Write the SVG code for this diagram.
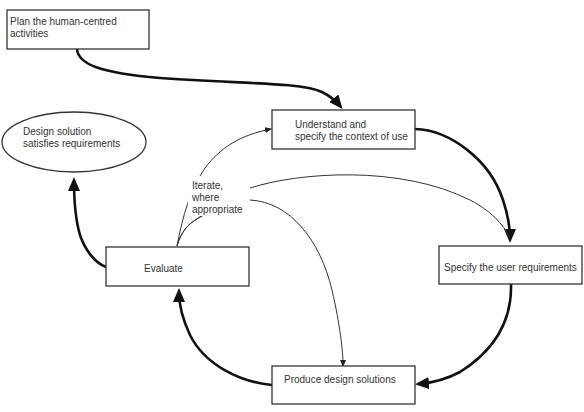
<svg xmlns="http://www.w3.org/2000/svg" width="584" height="412" viewBox="0 0 584 412">
<style>
.box{fill:#fff;stroke:#333;stroke-width:1.3}
.t{font-family:"Liberation Sans",Arial,sans-serif;font-size:10px;fill:#333}
.thick{fill:none;stroke:#111;stroke-width:2.6}
.thin{fill:none;stroke:#333;stroke-width:1}
</style>
<defs>
<marker id="big" viewBox="0 0 14 12" refX="10" refY="6" markerWidth="14" markerHeight="12" markerUnits="userSpaceOnUse" orient="auto">
<path d="M0,0 L14,6 L0,12 z" fill="#111"/>
</marker>
<marker id="small" viewBox="0 0 7 6" refX="6" refY="3" markerWidth="7" markerHeight="6" markerUnits="userSpaceOnUse" orient="auto">
<path d="M0,0 L7,3 L0,6 z" fill="#222"/>
</marker>
</defs>
<rect width="584" height="412" fill="#fff"/>

<g id="connectors">
<path class="thick" marker-end="url(#big)" d="M77,49 C78,64 100,73 160,78 C240,84 300,82 322,92 C330,96 336,101 340,106"/>
<path class="thick" marker-end="url(#big)" d="M415,129 C450,130 490,160 503,200 C508,215 510,225 510,239"/>
<path class="thick" marker-end="url(#big)" d="M511,284 C512,320 495,350 460,372 C445,380 430,383 419,384"/>
<path class="thick" marker-end="url(#big)" d="M272,385 C240,382 205,365 190,335 C182,318 179,305 179,292"/>
<path class="thick" marker-end="url(#big)" d="M106,267 C95,263 85,250 80,235 C75,218 74,200 74,181"/>
<path class="thin" marker-end="url(#small)" d="M177,246 C183,215 190,190 205,168 C220,148 240,135 271,129"/>
<path class="thin" d="M177,246 C181,232 188,224 197,219 C215,205 230,195 250,188 C300,172 400,165 470,200 C495,213 505,228 510,238"/>
<path class="thin" marker-end="url(#small)" d="M177,246 C181,232 188,224 197,219 C215,208 232,202 250,200 C290,202 320,240 332,290 C340,325 343,350 343,366"/>
</g>

<g id="plan">
<rect class="box" x="7" y="10" width="142" height="39"/>
<text class="t" x="10" y="25">Plan the human-centred</text>
<text class="t" x="10" y="37">activities</text>
</g>

<g id="understand">
<rect class="box" x="272" y="110" width="143" height="39"/>
<text class="t" x="295" y="128">Understand and</text>
<text class="t" x="295" y="140">specify the context of use</text>
</g>

<g id="satisfied">
<ellipse class="box" cx="74" cy="142" rx="72" ry="30"/>
<text class="t" x="23" y="135">Design solution</text>
<text class="t" x="23" y="147">satisfies requirements</text>
</g>

<g id="evaluate">
<rect class="box" x="106" y="247" width="143" height="39"/>
<text class="t" x="144" y="272">Evaluate</text>
</g>

<g id="specify">
<rect class="box" x="439" y="246" width="143" height="38"/>
<text class="t" x="444" y="271">Specify the user requirements</text>
</g>

<g id="produce">
<rect class="box" x="272" y="366" width="143" height="38"/>
<text class="t" x="284" y="383">Produce design solutions</text>
</g>

<g id="iterate-label">
<rect x="188" y="176" width="62" height="40" fill="#fff"/>
<text class="t" x="192" y="189">Iterate,</text>
<text class="t" x="192" y="201">where</text>
<text class="t" x="192" y="213">appropriate</text>
</g>
</svg>
